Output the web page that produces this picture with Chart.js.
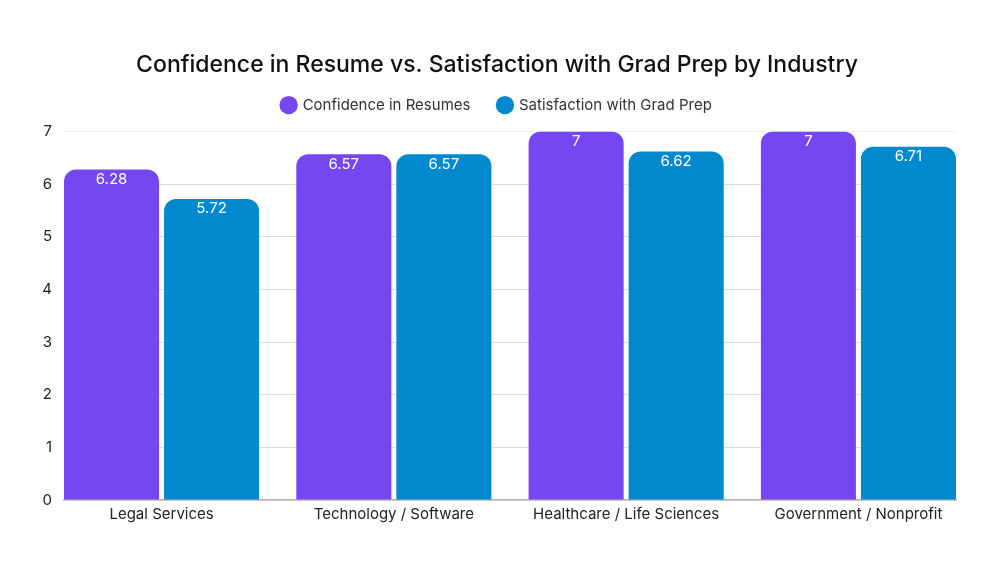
<!DOCTYPE html>
<html>
<head>
<meta charset="utf-8">
<script src="https://cdn.jsdelivr.net/npm/chart.js@4.4.1/dist/chart.umd.min.js"></script>
<style>
  html, body { margin: 0; padding: 0; background: #fff; }
  #wrap { width: 1000px; height: 580px; }
</style>
</head>
<body>
<div id="wrap"><canvas id="c" width="1000" height="580"></canvas></div>
<script>
// ── Data ──────────────────────────────────────────────────────────────
const industries = ['Legal Services', 'Technology / Software', 'Healthcare / Life Sciences', 'Government / Nonprofit'];
const confidence = [6.28, 6.57, 7, 7];
const satisfaction = [5.72, 6.57, 6.62, 6.71];
const yTicks = [0, 1, 2, 3, 4, 5, 6, 7];

const FONT = 'Inter, "Open Sans", sans-serif';
const PURPLE = '#7447f1';
const BLUE = '#0289cd';

// étiquettes blanches en haut des barres
const barLabels = {
  id: 'barLabels',
  afterDatasetsDraw(chart) {
    const { ctx } = chart;
    ctx.save();
    ctx.fillStyle = '#ffffff';
    ctx.font = '15px ' + FONT;
    ctx.textAlign = 'center';
    ctx.textBaseline = 'middle';
    chart.data.datasets.forEach((ds, di) => {
      chart.getDatasetMeta(di).data.forEach((bar, i) => {
        ctx.fillText(String(ds.data[i].y), bar.x, bar.y + 10);
      });
    });
    ctx.restore();
  },
};

// un peu d'espace sous la légende
const legendSpace = {
  id: 'legendSpace',
  beforeInit(chart) {
    const fit = chart.legend.fit;
    chart.legend.fit = function () {
      fit.call(this);
      this.height += 9;
    };
  },
};

const toPoints = arr => arr.map((v, i) => ({ x: i, y: v }));

new Chart(document.getElementById('c'), {
  type: 'bar',
  plugins: [barLabels, legendSpace],
  data: {
    datasets: [
      {
        label: 'Confidence in Resumes',
        data: toPoints(confidence),
        backgroundColor: PURPLE,
        borderRadius: { topLeft: 12, topRight: 12 },
        borderSkipped: 'bottom',
        categoryPercentage: 0.8614,
        barPercentage: 0.95,
      },
      {
        label: 'Satisfaction with Grad Prep',
        data: toPoints(satisfaction),
        backgroundColor: BLUE,
        borderRadius: { topLeft: 12, topRight: 12 },
        borderSkipped: 'bottom',
        categoryPercentage: 0.8614,
        barPercentage: 0.95,
      },
    ],
  },
  options: {
    responsive: false,
    animation: false,
    layout: { padding: { top: 43, left: 38, right: 44, bottom: 52 } },
    plugins: {
      title: {
        display: true,
        text: 'Confidence in Resume vs. Satisfaction with Grad Prep by Industry',
        color: '#111111',
        font: { family: FONT, size: 23, weight: '500' },
        padding: { top: 8, bottom: -9 },
      },
      legend: {
        display: true,
        position: 'top',
        labels: {
          usePointStyle: true,
          pointStyle: 'circle',
          boxWidth: 13,
          boxHeight: 13,
          padding: 28,
          color: '#333333',
          font: { family: FONT, size: 15 },
        },
      },
      tooltip: { enabled: false },
    },
    scales: {
      x: {
        type: 'linear',
        offset: false,
        min: -0.42,
        max: 3.42,
        afterBuildTicks: s => { s.ticks = industries.map((_, i) => ({ value: i })); },
        ticks: {
          callback: v => industries[v],
          color: '#222222',
          font: { family: FONT, size: 15 },
          padding: 5,
          maxRotation: 0,
          autoSkip: false,
        },
        grid: { display: false, drawTicks: false },
        border: { display: true, color: '#b4b4b4', width: 1.5 },
      },
      y: {
        min: 0,
        max: 7,
        afterFit: s => { s.width = 26; },
        afterBuildTicks: s => { s.ticks = yTicks.map(v => ({ value: v })); },
        ticks: {
          color: '#222222',
          font: { family: FONT, size: 15 },
          padding: 12,
        },
        grid: {
          drawTicks: false,
          color: ctx => (ctx.tick && ctx.tick.value === 7 ? '#f0f0f0' : '#dcdcdc'),
        },
        border: { display: false },
      },
    },
  },
});
</script>
</body>
</html>
